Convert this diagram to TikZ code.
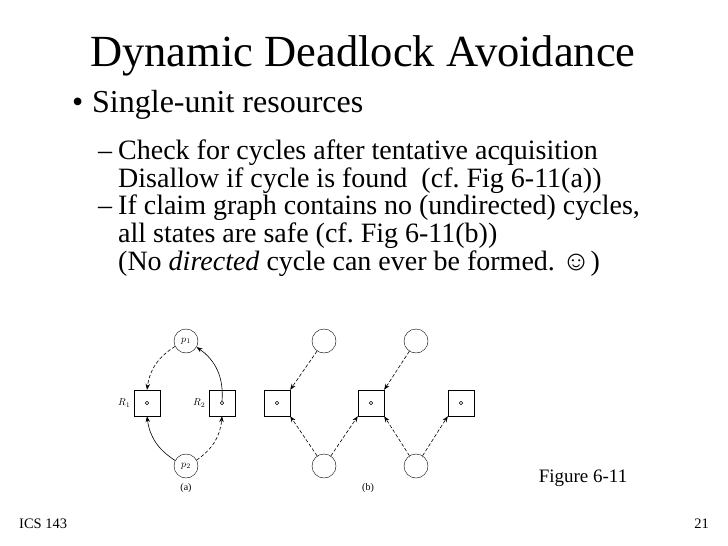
\documentclass[tikz,border=0pt]{standalone}
\usepackage{fontspec}
\setmainfont{Liberation Serif}
\frenchspacing
\usetikzlibrary{arrows.meta}
\tikzstyle{proc} = [circle, draw=black, minimum size=24pt, inner sep=0pt, font=\fontsize{10}{11}\selectfont]
\tikzstyle{res} = [rectangle, draw=black, minimum size=26pt, inner sep=0pt]
\tikzstyle{tok} = [circle, draw=black, minimum size=3.5pt, inner sep=0pt]
\tikzstyle{claim} = [semithick,dash pattern=on 3.5pt off 2pt,-{Stealth[length=6pt]}]
\tikzstyle{held} = [semithick,-{Stealth[length=6pt]}]
\tikzstyle{txt} = [anchor=base west, inner sep=0pt]

\begin{document}
\begin{tikzpicture}[x=1pt,y=-1pt]
\useasboundingbox (0,0) rectangle (728,546);

% slide text
\node (title) [inner sep=0pt, anchor=base, font=\fontsize{44.5}{46}\selectfont] at (363,66) {Dynamic Deadlock Avoidance};
\node (b1) [txt, font=\fontsize{32}{34}\selectfont] at (72,112) {\textbullet};
\node (t1) [txt, font=\fontsize{32}{34}\selectfont] at (92,112) {Single-unit resources};
\node (d1) [txt, font=\fontsize{28}{30}\selectfont] at (98,159) {--};
\node (s1) [txt, font=\fontsize{28}{30}\selectfont] at (118,159) {Check for cycles after tentative acquisition};
\node (s2) [txt, font=\fontsize{28}{30}\selectfont] at (118,187) {Disallow if cycle is found\ \ (cf. Fig 6-11(a))};
\node (d2) [txt, font=\fontsize{28}{30}\selectfont] at (98,214) {--};
\node (s3) [txt, font=\fontsize{28}{30}\selectfont] at (118,214) {If claim graph contains no (undirected) cycles,};
\node (s4) [txt, font=\fontsize{28}{30}\selectfont] at (118,242) {all states are safe (cf. Fig 6-11(b))};
\node (s5) [txt, font=\fontsize{28}{30}\selectfont] at (118,270) {(No \textit{directed} cycle can ever be formed. ☺)};

% figure (a)
\node (p1) [proc] at (186,341) {$p_1$};
\node (p2) [proc] at (186,466) {$p_2$};
\node (r1) [res] at (147,403) {};
\node (r2) [res] at (222,403) {};
\node (r1t) [tok] at (r1) {};
\node (r2t) [tok] at (r2) {};
\node (r1l) [anchor=east, font=\fontsize{10}{11}\selectfont] at (r1.west) {$R_1$};
\node (r2l) [anchor=east, font=\fontsize{10}{11}\selectfont] at (r2.west) {$R_2$};
\node (la) [font=\fontsize{10}{11}\selectfont] at (186,488) {(a)};

\draw [claim] (p1) to[bend right=25] (r1.north);
\draw [held] (r2t) to[bend right=30] (p1);
\draw [held] (p2) to[bend left=25] (r1.south);
\draw [claim] (p2) to[bend right=25] (r2.south);

% figure (b)
\node (q1) [proc] at (324,341) {};
\node (q2) [proc] at (416,341) {};
\node (q3) [proc] at (324,466) {};
\node (q4) [proc] at (416,466) {};
\node (s1b) [res] at (277,403) {};
\node (s2b) [res] at (371,403) {};
\node (s3b) [res] at (461,403) {};
\node (s1t) [tok] at (s1b) {};
\node (s2t) [tok] at (s2b) {};
\node (s3t) [tok] at (s3b) {};
\node (lb) [font=\fontsize{10}{11}\selectfont] at (368,488) {(b)};

\draw [claim] (q1) -- (s1b.north east);
\draw [claim] (q2) -- (s2b.north east);
\draw [claim] (q3) -- (s1b.south east);
\draw [claim] (q3) -- (s2b.south west);
\draw [claim] (q4) -- (s2b.south east);
\draw [claim] (q4) -- (s3b.south west);

\node (fig) [font=\fontsize{19}{20}\selectfont] at (583,478) {Figure 6-11};
\node (ics) [txt, font=\fontsize{14.5}{16}\selectfont] at (19,528) {ICS 143};
\node (pg) [inner sep=0pt, anchor=base east, font=\fontsize{14.5}{16}\selectfont] at (709,528) {21};

\end{tikzpicture}
\end{document}
